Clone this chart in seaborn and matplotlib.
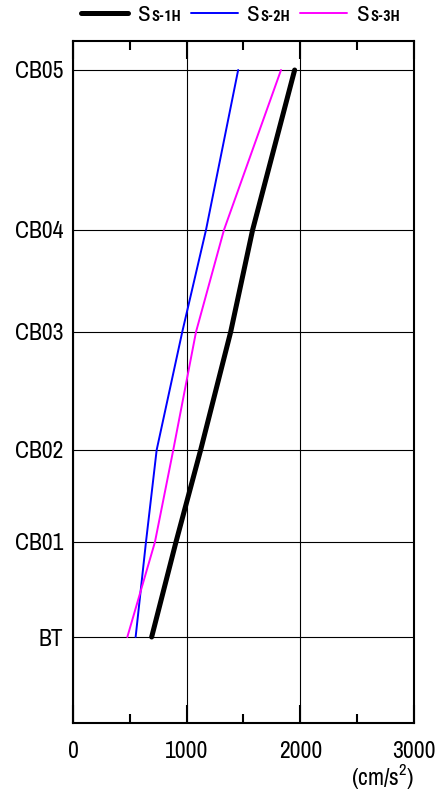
import matplotlib
matplotlib.use("Agg")
import matplotlib.pyplot as plt
import numpy as np
import pandas as pd
import seaborn as sns
from matplotlib.lines import Line2D
from matplotlib.offsetbox import AnchoredOffsetbox, DrawingArea, HPacker, TextArea
from matplotlib.ticker import FixedLocator

# Observation levels (bottom to top) and their heights
levels = ["BT", "CB01", "CB02", "CB03", "CB04", "CB05"]
heights = [8.6, 18.1, 27.3, 39.1, 49.3, 65.3]

# Maximum horizontal acceleration (cm/s^2) for each wave
ss1h = [692, 906, 1123, 1387, 1580, 1950]
ss2h = [551, 642, 736, 961, 1170, 1453]
ss3h = [478, 721, 882, 1082, 1328, 1830]

waves = ["Ss-1H", "Ss-2H", "Ss-3H"]
wave_main = ["S", "S", "S"]
wave_sub = ["S-1H", "S-2H", "S-3H"]
colors = ["black", "blue", "magenta"]
widths = [3.6, 1.4, 1.4]

xticks = [0, 1000, 2000, 3000]

df = pd.DataFrame({
    "height": heights * 3,
    "acc": ss1h + ss2h + ss3h,
    "wave": [w for w in waves for _ in heights],
})

sns.set_theme(style="white")
FONT = ["Archivo Narrow", "DejaVu Sans"]
plt.rcParams["font.family"] = FONT
plt.rcParams["mathtext.fontset"] = "custom"
plt.rcParams["mathtext.rm"] = "Archivo Narrow"
plt.rcParams["mathtext.it"] = "Archivo Narrow"

fig = plt.figure(figsize=(4.39, 7.94), dpi=100)
ax = fig.add_axes([73 / 439, 71 / 794, 341 / 439, 682 / 794])

for w, c, lw in zip(waves, colors, widths):
    sns.lineplot(data=df[df["wave"] == w], x="acc", y="height", orient="y",
                 color=c, linewidth=lw, ax=ax, legend=False, zorder=3,
                 solid_capstyle="round", solid_joinstyle="round")

ax.set_xlim(0, 3000)
ax.set_ylim(0, 68.2)
ax.set_xlabel("")
ax.set_ylabel("")

ax.set_yticks(heights)
ax.set_yticklabels(levels)
ax.set_xticks(xticks)
ax.set_xticklabels([str(v) for v in xticks])
ax.xaxis.set_minor_locator(FixedLocator([500, 1500, 2500]))

ax.grid(True, which="major", color="black", linewidth=0.8)
ax.set_axisbelow(True)

ax.tick_params(axis="x", which="major", direction="in", length=13, width=1.5,
               top=True, bottom=True, color="black", pad=13, labelsize=17,
               labelcolor="black")
ax.tick_params(axis="x", which="minor", direction="in", length=6.5, width=1.5,
               top=True, bottom=True, color="black")
ax.tick_params(axis="y", which="major", length=0, pad=7, labelsize=17,
               labelcolor="black")

for s in ax.spines.values():
    s.set_visible(True)
    s.set_color("black")
    s.set_linewidth(1.5)

ax.annotate("(cm/s$^{2}$)", xy=(1.0, -0.079), xycoords="axes fraction",
            ha="right", va="center", fontsize=17, color="black")

# Legend above the frame: a line sample, a large "S" and a smaller bold suffix
entries = []
for main, sub, c, lw in zip(wave_main, wave_sub, colors, widths):
    da = DrawingArea(34, 12, 0, 0)
    da.add_artist(Line2D([0, 34], [5.8, 5.8], color=c, lw=lw))
    t1 = TextArea(main, textprops=dict(size=16.5, color="black"))
    t2 = TextArea(sub, textprops=dict(size=10.5, color="black", weight="bold",
                                      family=["Roboto Condensed", "Archivo Narrow"]))
    txt = HPacker(children=[t1, t2], align="baseline", pad=0, sep=0.5)
    entries.append(HPacker(children=[da, txt], align="baseline", pad=0, sep=7))
legend_box = HPacker(children=entries, align="baseline", pad=0, sep=7)
anchored = AnchoredOffsetbox(loc="center", child=legend_box, pad=0, frameon=False,
                             bbox_to_anchor=(240.5 / 439, 1 - 15 / 794),
                             bbox_transform=fig.transFigure, borderpad=0)
fig.add_artist(anchored)

fig.savefig("out.png", dpi=100)
